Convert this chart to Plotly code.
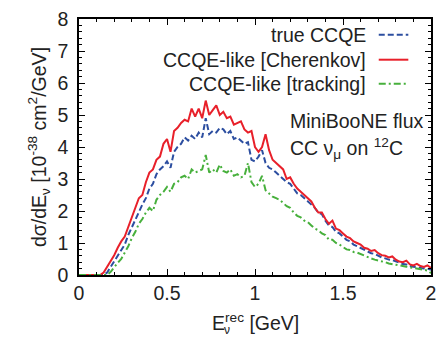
import plotly.graph_objects as go

# ---- data ----
energy = [round(0.02 * i, 2) for i in range(101)]  # 0.00 .. 2.00 GeV grid

true_ccqe = [0, 0, 0, 0, 0, 0, 0, 0, 0.08, 0.25,
             0.40, 0.58, 0.75, 0.95, 1.25, 1.50, 1.70, 2.00, 2.20, 2.40,
             2.70, 2.85, 3.15, 3.30, 3.40, 3.55, 3.35, 3.85, 4.00, 4.10,
             4.30, 4.20, 4.35, 4.25, 4.45, 4.30, 4.90, 4.40, 4.50, 4.45,
             4.60, 4.55, 4.40, 4.50, 4.25, 4.30, 4.20, 4.10, 4.15, 3.60,
             3.55, 3.70, 3.90, 3.50, 3.35, 3.30, 3.20, 3.10, 3.00, 2.90,
             2.85, 2.70, 2.55, 2.50, 2.40, 2.30, 2.20, 2.10, 1.95, 1.90,
             1.70, 1.55, 1.50, 1.35, 1.30, 1.20, 1.10, 1.05, 0.95, 0.90,
             0.85, 0.78, 0.73, 0.68, 0.66, 0.60, 0.55, 0.52, 0.48, 0.47,
             0.42, 0.37, 0.34, 0.33, 0.28, 0.26, 0.25, 0.22, 0.20, 0.20,
             0.16]

cherenkov = [0, 0, 0, 0, 0, 0, 0, 0.08, 0.25, 0.45,
             0.62, 0.85, 1.05, 1.20, 1.50, 1.80, 2.10, 2.40, 2.50, 2.90,
             3.20, 3.30, 3.60, 3.70, 4.10, 4.25, 3.85, 4.50, 4.60, 4.75,
             4.85, 4.80, 5.20, 4.95, 5.20, 4.90, 5.45, 5.00, 5.15, 5.30,
             5.00, 5.10, 4.90, 4.95, 4.70, 4.75, 4.80, 4.55, 4.45, 4.50,
             4.00, 3.85, 4.00, 4.40, 3.90, 3.60, 3.50, 3.40, 3.30, 3.00,
             3.05, 2.85, 2.70, 2.60, 2.50, 2.40, 2.30, 2.10, 1.95, 1.95,
             1.75, 1.60, 1.70, 1.45, 1.40, 1.30, 1.20, 1.15, 1.05, 1.00,
             0.95, 0.85, 0.82, 0.75, 0.78, 0.68, 0.62, 0.60, 0.55, 0.58,
             0.48, 0.42, 0.40, 0.45, 0.33, 0.30, 0.35, 0.28, 0.25, 0.30,
             0.22]

tracking = [0, 0, 0, 0, 0, 0, 0, 0, 0, 0.10,
            0.25, 0.38, 0.50, 0.70, 0.90, 1.15, 1.35, 1.60, 1.75, 1.95,
            2.10, 2.00, 2.35, 2.50, 2.60, 2.75, 2.60, 2.85, 2.90, 3.05,
            3.10, 3.00, 3.30, 3.20, 3.25, 3.30, 3.75, 3.20, 3.30, 3.20,
            3.45, 3.25, 3.20, 3.30, 3.10, 3.15, 3.05, 3.10, 3.50, 2.90,
            2.75, 2.85, 3.10, 2.65, 2.55, 2.45, 2.40, 2.35, 2.25, 2.15,
            2.10, 1.95, 1.85, 1.80, 1.70, 1.65, 1.55, 1.45, 1.40, 1.30,
            1.25, 1.10, 1.10, 1.00, 0.95, 0.88, 0.80, 0.78, 0.72, 0.70,
            0.65, 0.60, 0.55, 0.52, 0.48, 0.46, 0.42, 0.40, 0.36, 0.35,
            0.32, 0.30, 0.27, 0.26, 0.24, 0.22, 0.20, 0.18, 0.15, 0.14,
            0.06]

series_names = ["true CCQE", "CCQE-like [Cherenkov]", "CCQE-like [tracking]"]
x_ticks = [0, 0.5, 1, 1.5, 2]
x_tick_labels = ["0", "0.5", "1", "1.5", "2"]
y_ticks = [0, 1, 2, 3, 4, 5, 6, 7, 8]

RED = "#e8202a"
BLUE = "#2c4ea0"
GREEN = "#47b03c"
FONT = "Liberation Sans, Arial, sans-serif"
FS = 19.5

fig = go.Figure()
fig.add_trace(go.Scatter(x=energy, y=true_ccqe, mode="lines", name=series_names[0],
                         line=dict(color=BLUE, width=2, dash="6px,3px")))
fig.add_trace(go.Scatter(x=energy, y=cherenkov, mode="lines", name=series_names[1],
                         line=dict(color=RED, width=2)))
fig.add_trace(go.Scatter(x=energy, y=tracking, mode="lines", name=series_names[2],
                         line=dict(color=GREEN, width=2, dash="7px,3px,2px,3px")))

axis_common = dict(showline=True, linecolor="black", linewidth=1.5, mirror="allticks",
                   ticks="inside", ticklen=6, tickwidth=1, tickcolor="black",
                   showgrid=False, zeroline=False,
                   tickfont=dict(family=FONT, size=FS, color="#222"))

fig.update_xaxes(range=[0, 2], tickvals=x_ticks, ticktext=x_tick_labels,
                 minor=dict(dtick=0.1, ticks="inside", ticklen=3, tickcolor="black"),
                 **axis_common)
fig.update_yaxes(range=[0, 8], tickvals=y_ticks,
                 minor=dict(dtick=0.2, ticks="inside", ticklen=3, tickcolor="black"),
                 ticklabelstandoff=5,
                 title=dict(text="dσ/dE<sub>ν</sub> [10<sup>-38</sup> cm<sup>2</sup>/GeV]",
                            font=dict(family=FONT, size=FS, color="#222"), standoff=6),
                 **axis_common)

L, R, T, B = 79, 8, 14, 63
W, H = 444, 338
pw, ph = W - L - R, H - T - B

def px(xp):
    return (xp - L) / pw

def py(yp):
    return (H - B - yp) / ph

annotations = []
shapes = []
legend_rows = [30, 55.5, 80]
legend_styles = [(BLUE, "6px,3px"), (RED, "solid"), (GREEN, "7px,3px,2px,3px")]
for name, yr, (col, dash) in zip(series_names, legend_rows, legend_styles):
    annotations.append(dict(text=name, x=px(372), y=py(yr), xref="paper", yref="paper",
                            xanchor="right", yanchor="middle", showarrow=False,
                            font=dict(family=FONT, size=FS, color="#222")))
    shapes.append(dict(type="line", xref="paper", yref="paper",
                       x0=px(383), x1=px(413), y0=py(yr), y1=py(yr),
                       line=dict(color=col, width=2, dash=dash)))

annotations.append(dict(text="MiniBooNE flux", x=px(291), y=py(118), xref="paper", yref="paper",
                        xanchor="left", yanchor="middle", showarrow=False,
                        font=dict(family=FONT, size=FS, color="#222")))
annotations.append(dict(text="CC ν<sub>μ</sub> on <sup>12</sup>C", x=px(291), y=py(146),
                        xref="paper", yref="paper", xanchor="left", yanchor="middle",
                        showarrow=False, font=dict(family=FONT, size=FS, color="#222")))

# x-axis title: E with stacked sup "rec" and sub "ν"
annotations.append(dict(text="E<sup>rec</sup> [GeV]", x=px(258), y=py(323), xref="paper", yref="paper",
                        xanchor="center", yanchor="middle", showarrow=False,
                        font=dict(family=FONT, size=FS, color="#222")))
annotations.append(dict(text="ν", x=px(224), y=py(331), xref="paper", yref="paper",
                        xanchor="left", yanchor="middle", showarrow=False,
                        font=dict(family=FONT, size=12, color="#222")))

fig.update_layout(width=W, height=H, margin=dict(l=L, r=R, t=T, b=B),
                  paper_bgcolor="white", plot_bgcolor="white", showlegend=False,
                  annotations=annotations, shapes=shapes)

fig.write_html("out.html")
